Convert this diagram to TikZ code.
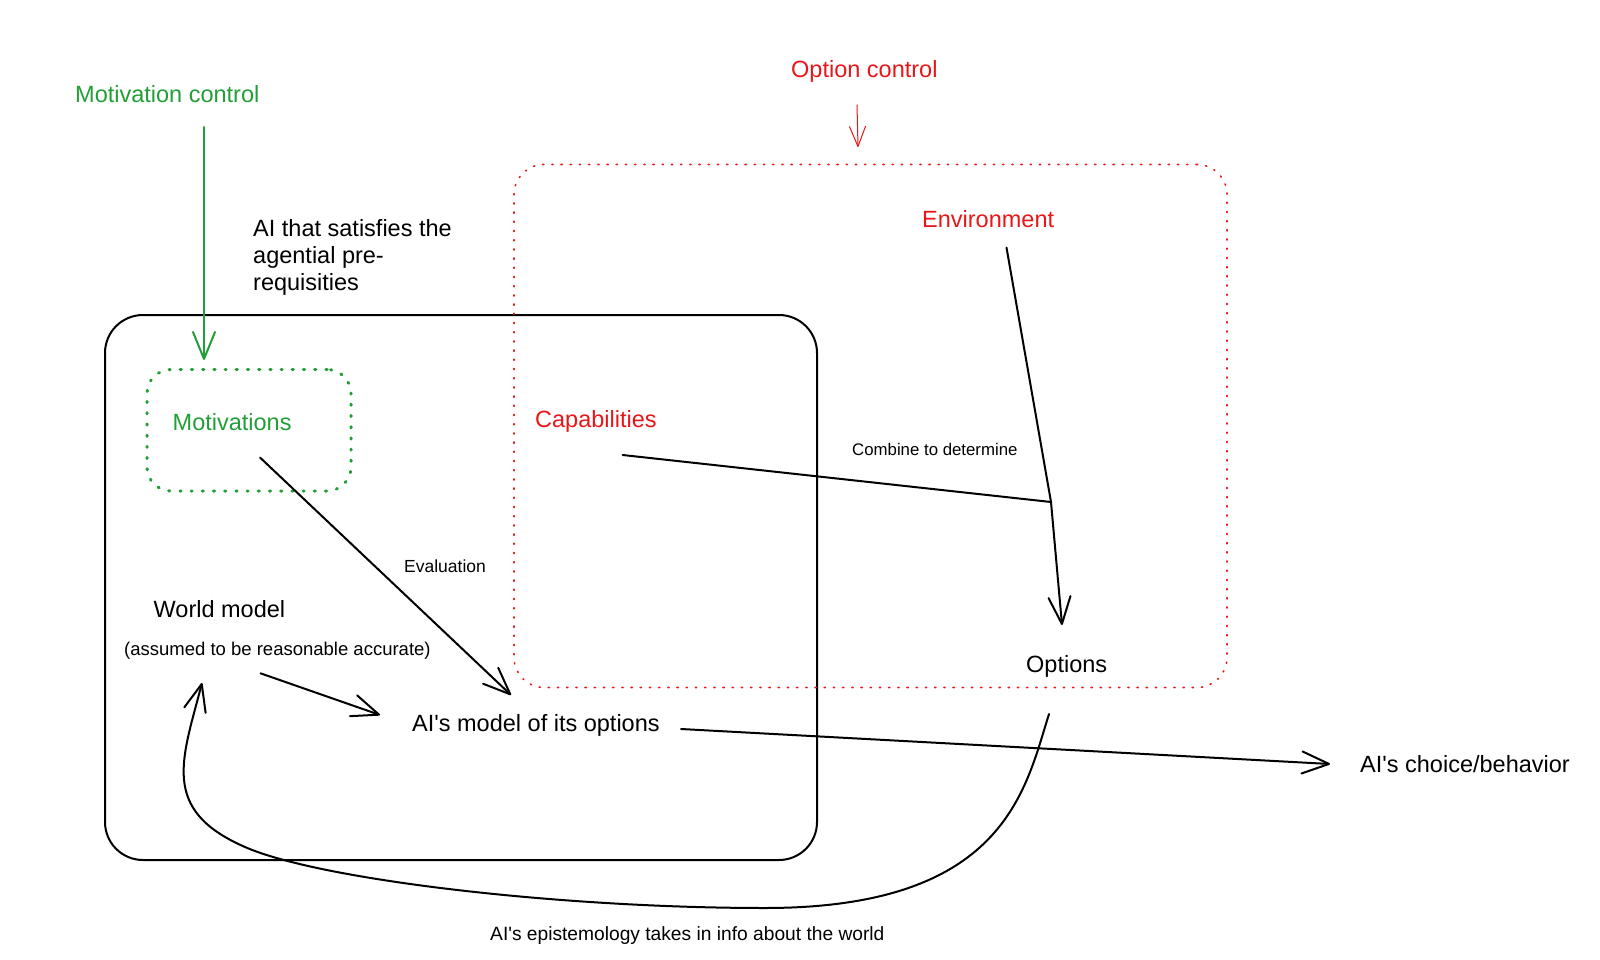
\documentclass[tikz,border=0pt]{standalone}
\usepackage{fontspec}
\setmainfont{Liberation Sans}
\usetikzlibrary{arrows.meta}
\definecolor{mygreen}{RGB}{34,158,56}
\definecolor{myred}{RGB}{232,22,24}
\newcommand{\apos}{\textquotesingle}
\begin{document}
\begin{tikzpicture}[x=1pt,y=-1pt,
  txt/.style={anchor=base west,inner sep=0pt,font=\fontsize{23.5}{27}\selectfont},
  smalltxt/.style={anchor=base west,inner sep=0pt,font=\fontsize{17.5}{20}\selectfont},
  conn/.style={line width=2pt,line cap=round,line join=round},
  openhead/.style={-{Straight Barb[length=27pt,width=22pt,round]}},
  greenbox/.style={draw=mygreen,line width=3pt,line cap=round,dash pattern=on 1.2pt off 10pt,rounded corners=24pt},
  redbox/.style={draw=myred,line width=1.6pt,line cap=round,dash pattern=on 1.2pt off 8pt,rounded corners=30pt},
  agentbox/.style={draw=black,line width=2pt,rounded corners=38pt}]
\useasboundingbox (0,0) rectangle (1600,960);

% boxes
\node[agentbox,minimum width=712pt,minimum height=545pt,inner sep=0pt] (agent) at (461,587.5) {};
\node[redbox,minimum width=713pt,minimum height=523pt,inner sep=0pt] (optbox) at (870.5,426) {};
\node[greenbox,minimum width=204pt,minimum height=121.5pt,inner sep=0pt] (motbox) at (249,430.25) {};

% texts
\node[txt,text=mygreen] (motctl) at (75,103) {Motivation control};
\node[txt,align=left,anchor=base west] (agtxt) at (253,290) {AI that satisfies the\\agential pre-\\requisities};
\node[txt,text=myred] (optctl) at (791,78) {Option control};
\node[txt,text=myred] (env) at (922,227) {Environment};
\node[txt,text=myred] (cap) at (535,427) {Capabilities};
\node[smalltxt,font=\fontsize{16.8}{20}\selectfont] (combine) at (852,455) {Combine to determine};
\node[txt] (options) at (1026,672) {Options};
\node[txt,text=mygreen] (mot) at (172.5,430) {Motivations};
\node[smalltxt] (eval) at (404,572) {Evaluation};
\node[txt] (world) at (153.5,617) {World model};
\node[smalltxt,font=\fontsize{18.5}{22}\selectfont] (assumed) at (124,655) {(assumed to be reasonable accurate)};
\node[txt] (model) at (412,731) {AI\apos s model of its options};
\node[txt] (choice) at (1360,772) {AI\apos s choice/behavior};
\node[smalltxt,font=\fontsize{19.2}{22}\selectfont] (epist) at (490,940) {AI\apos s epistemology takes in info about the world};

% connector end points
\coordinate (mc-a) at (204,127);
\coordinate (mc-b) at (204,360);
\coordinate (oc-a) at (857,105);
\coordinate (oc-b) at (858,147);
\coordinate (env-a) at (1006.5,247.6);
\coordinate (cap-a) at (622.6,455);
\coordinate (join) at (1051,502);
\coordinate (opt-in) at (1062,625);
\coordinate (mot-a) at (260,457.5);
\coordinate (model-in1) at (511,695);
\coordinate (world-a) at (260.5,673.3);
\coordinate (model-in2) at (380,715);
\coordinate (model-a) at (681,729);
\coordinate (choice-in) at (1330,764);
\coordinate (ep-a) at (1049,714);
\coordinate (ep-b) at (765,908);
\coordinate (ep-c) at (245,847);
\coordinate (world-in) at (202,683);

% connectors
\draw[conn,draw=mygreen,openhead] (mc-a) -- (mc-b);
\draw[line width=1pt,line cap=round,draw=myred,-{Straight Barb[length=20pt,width=16pt,round]}] (oc-a) -- (oc-b);
\draw[conn] (env-a) -- (join);
\draw[conn] (cap-a) -- (join);
\draw[conn,openhead] (join) -- (opt-in);
\draw[conn,openhead] (mot-a) -- (model-in1);
\draw[conn,openhead] (world-a) -- (model-in2);
\draw[conn,openhead] (model-a) -- (choice-in);
\draw[conn,openhead] (ep-a) .. controls (1025,790) and (1005,908) .. (ep-b)
  .. controls (560,908) and (320,880) .. (ep-c)
  .. controls (160,810) and (182,760) .. (world-in);
\end{tikzpicture}
\end{document}
